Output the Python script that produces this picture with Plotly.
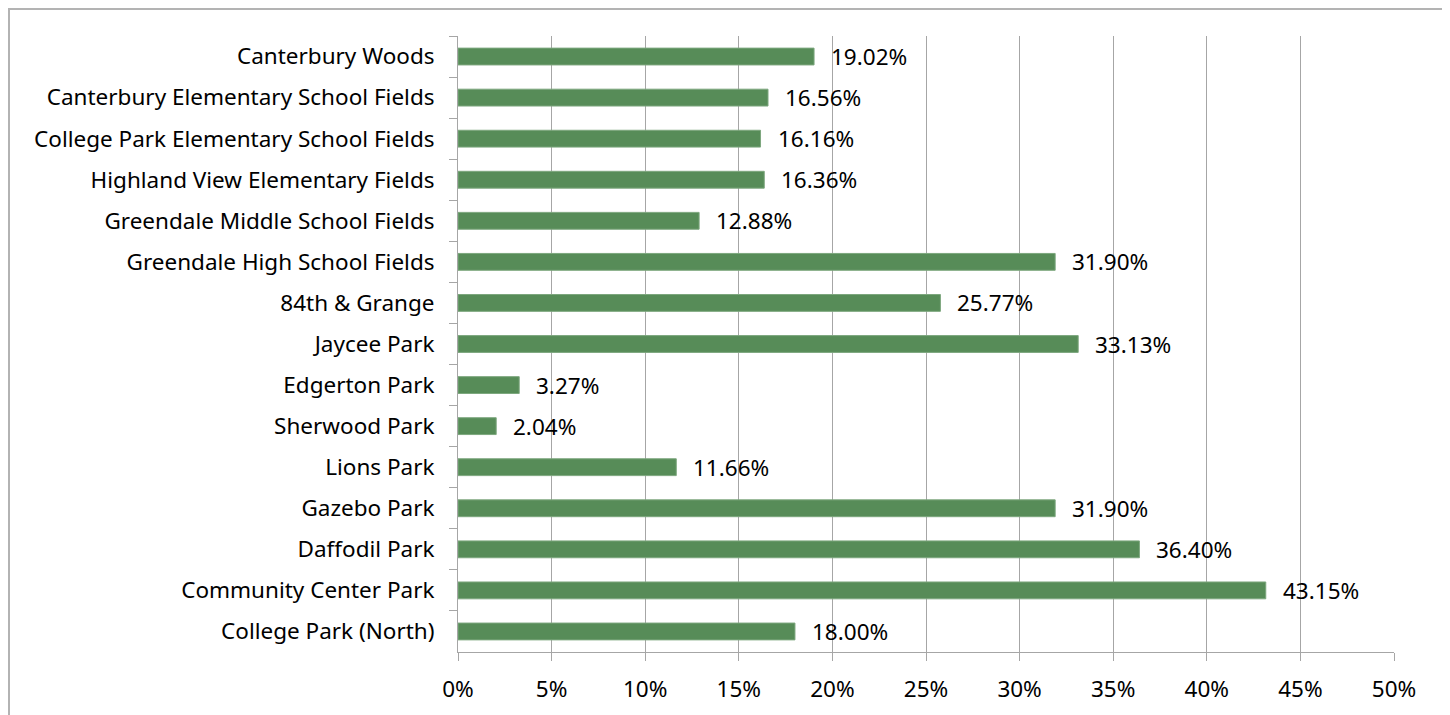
import plotly.graph_objects as go

parques = [
    'Canterbury Woods',
    'Canterbury Elementary School Fields',
    'College Park Elementary School Fields',
    'Highland View Elementary Fields',
    'Greendale Middle School Fields',
    'Greendale High School Fields',
    '84th & Grange',
    'Jaycee Park',
    'Edgerton Park',
    'Sherwood Park',
    'Lions Park',
    'Gazebo Park',
    'Daffodil Park',
    'Community Center Park',
    'College Park (North)',
]
valores = [19.02, 16.56, 16.16, 16.36, 12.88, 31.90, 25.77, 33.13,
           3.27, 2.04, 11.66, 31.90, 36.40, 43.15, 18.00]
x_ticks = [0, 5, 10, 15, 20, 25, 30, 35, 40, 45, 50]
x_labels = [f'{v}%' for v in x_ticks]

fonte = 'Noto Sans'
tam = 22.5
cinza = '#a6a6a6'

fig = go.Figure()
fig.add_trace(go.Bar(
    x=valores,
    y=parques,
    orientation='h',
    marker=dict(color='#578c58', line=dict(color='#7da77e', width=1)),
    hoverinfo='x+y'
))

# rotulos de valor a direita de cada barra
for p, v in zip(parques, valores):
    fig.add_annotation(
        x=v, y=p, text=f'{v:.2f}%', showarrow=False,
        xanchor='left', xshift=15,
        font=dict(size=tam, family=fonte, color='#000000')
    )

# moldura externa
fig.add_shape(type='rect', xref='paper', yref='paper',
              x0=-0.4797, x1=1.0534, y0=-0.2, y1=1.0438,
              line=dict(color='#b3b3b3', width=2), layer='below')

fig.update_layout(
    width=1450,
    height=715,
    margin=dict(l=450, r=64, t=28, b=71),
    plot_bgcolor='white',
    paper_bgcolor='white',
    bargap=0.59,
    showlegend=False,
    font=dict(size=tam, family=fonte, color='#000000'),
    xaxis=dict(
        range=[0, 50],
        tickmode='array',
        tickvals=x_ticks,
        ticktext=x_labels,
        showgrid=True,
        gridcolor=cinza,
        gridwidth=1,
        showline=True,
        linecolor=cinza,
        linewidth=1,
        ticks='outside',
        ticklen=8,
        tickcolor=cinza,
        ticklabelstandoff=9,
        zeroline=False,
        title=None,
        tickfont=dict(size=tam, family=fonte)),
    yaxis=dict(
        autorange='reversed',
        showgrid=False,
        showline=True,
        linecolor=cinza,
        linewidth=1,
        ticks='outside',
        tickson='boundaries',
        ticklen=8,
        tickcolor=cinza,
        ticklabelstandoff=18,
        title=None,
        tickfont=dict(size=tam, family=fonte)),
)

fig.write_html('out.html')
